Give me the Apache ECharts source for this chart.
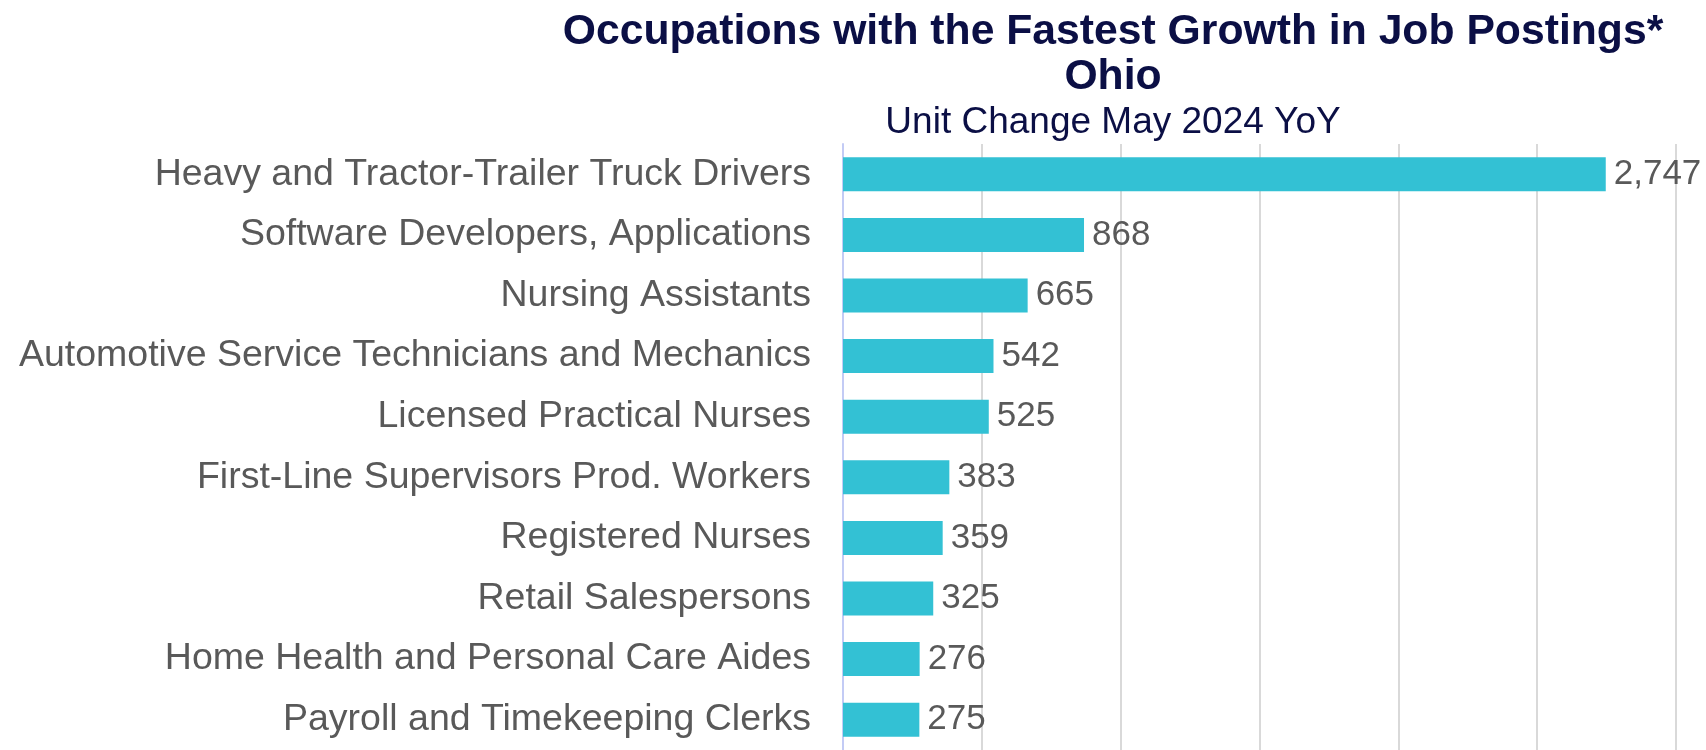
<!DOCTYPE html>
<html>
<head>
<meta charset="utf-8">
<script src="https://cdn.jsdelivr.net/npm/echarts@6/dist/echarts.min.js"></script>
<style>
  html, body { margin: 0; padding: 0; background: #fff; }
  #chart { width: 1706px; height: 750px; }
</style>
</head>
<body>
<div id="chart"></div>
<script>
// Ohio occupations, top 10 by YoY unit change in job postings (May 2024).
const occupations = [
  "Heavy and Tractor-Trailer Truck Drivers",
  "Software Developers, Applications",
  "Nursing Assistants",
  "Automotive Service Technicians and Mechanics",
  "Licensed Practical Nurses",
  "First-Line Supervisors Prod. Workers",
  "Registered Nurses",
  "Retail Salespersons",
  "Home Health and Personal Care Aides",
  "Payroll and Timekeeping Clerks",
];
const unitChange = [2747, 868, 665, 542, 525, 383, 359, 325, 276, 275];

const FONT = "'Liberation Sans', Arial, sans-serif";
const GRAY = "#595959";
const NAVY = "#0b0f45";

const chart = echarts.init(document.getElementById("chart"), null, { renderer: "canvas" });

chart.setOption({
  animation: false,
  backgroundColor: "#ffffff",
  title: [
    {
      text: "Occupations with the Fastest Growth in Job Postings*",
      left: 1108, top: 6, textAlign: "center",
      textStyle: { color: NAVY, fontFamily: FONT, fontSize: 42.7, fontWeight: "bold" },
    },
    {
      text: "Ohio",
      left: 1108, top: 51, textAlign: "center",
      textStyle: { color: NAVY, fontFamily: FONT, fontSize: 42.7, fontWeight: "bold" },
    },
    {
      text: "Unit Change May 2024 YoY",
      left: 1108, top: 99, textAlign: "center",
      textStyle: { color: NAVY, fontFamily: FONT, fontSize: 37, fontWeight: "normal" },
    },
  ],
  grid: { left: 843, right: 30, top: 144, bottom: -8, containLabel: false },
  xAxis: {
    type: "value",
    min: 0,
    max: 3000,
    interval: 500,
    axisLabel: { show: false },
    axisLine: { show: false },
    axisTick: { show: false },
    splitLine: { lineStyle: { color: "#d9d9d9", width: 2 } },
  },
  yAxis: {
    type: "category",
    inverse: true,
    data: occupations,
    axisTick: { show: false },
    axisLine: { lineStyle: { color: "#c3cbf5", width: 2 } },
    axisLabel: { color: GRAY, fontFamily: FONT, fontSize: 37.5, margin: 32 },
  },
  series: [
    {
      type: "bar",
      data: unitChange,
      barWidth: 34,
      itemStyle: { color: "#33c1d4" },
      label: {
        show: true,
        position: "right",
        distance: 8,
        color: GRAY,
        fontFamily: FONT,
        fontSize: 35,
        formatter: (p) => p.value.toLocaleString("en-US"),
      },
    },
  ],
});
</script>
</body>
</html>
